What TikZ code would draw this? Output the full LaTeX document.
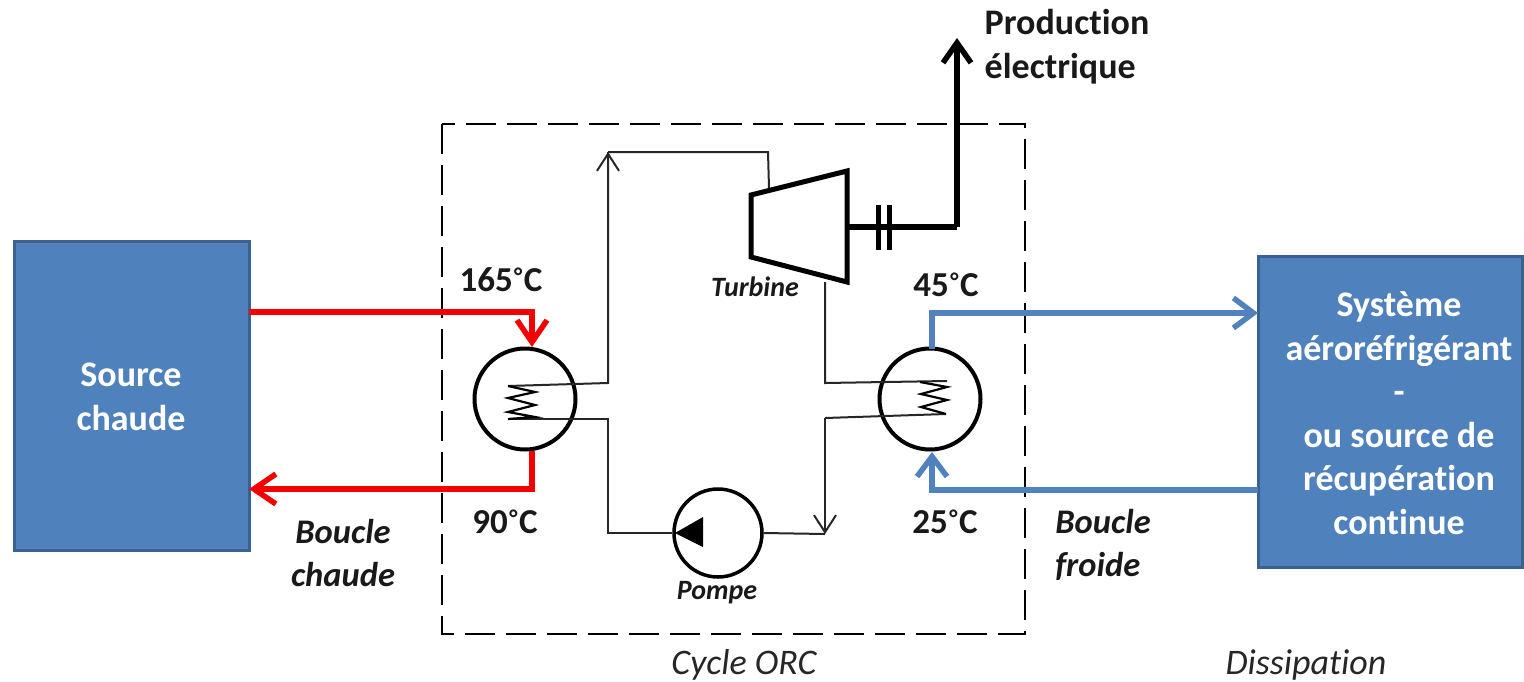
\documentclass[tikz,border=0pt]{standalone}
\usepackage{fontspec}
\setmainfont{Carlito}[Ligatures=NoCommon]
\usetikzlibrary{arrows.meta}
\definecolor{boxblue}{HTML}{4F81BD}
\definecolor{boxedge}{HTML}{3A6190}
\definecolor{loopblue}{HTML}{5082BE}
\definecolor{loopred}{HTML}{F40000}
\newcommand{\degr}{\kern1.5pt\raisebox{7pt}{\fontsize{24}{24}\selectfont °}\kern1.5pt}
\tikzset{
  block/.style={draw=boxedge, fill=boxblue, line width=3pt, inner sep=0pt},
  blocktext/.style={text=white, font=\fontsize{36}{43.5}\selectfont\bfseries, align=center},
  exch/.style={circle, draw=black, fill=white, line width=4pt, minimum size=101pt, inner sep=0pt},
  pumpc/.style={circle, draw=black, fill=white, line width=3.5pt, minimum size=88pt, inner sep=0pt},
  thinl/.style={draw=black!85, line width=2pt},
  thinarrow/.style={thinl, -{Straight Barb[length=17pt,width=22pt,line width=2pt]}},
  hotl/.style={draw=loopred, line width=5.5pt, line join=miter},
  hotarrow/.style={hotl, -{Straight Barb[length=22pt,width=30pt,line width=5.5pt]}},
  coldl/.style={draw=loopblue, line width=5.5pt, line join=miter},
  coldarrow/.style={coldl, -{Straight Barb[length=20pt,width=30pt,line width=5.5pt]}},
  shaft/.style={draw=black, line width=5.5pt},
  temp/.style={font=\fontsize{35}{36}\selectfont\bfseries, text=black!90},
  looplab/.style={font=\fontsize{34.5}{43}\selectfont\bfseries\itshape, align=center, text=black!90},
  complab/.style={font=\fontsize{28}{30}\selectfont\bfseries\itshape, text=black!90},
  zonelab/.style={font=\fontsize{36}{38}\selectfont\itshape, text=black!85}
}
\begin{document}
\begin{tikzpicture}[x=1pt,y=-1pt]
\useasboundingbox (0,0) rectangle (1524,681);
% boxes
\path [block] (14,241) rectangle (249,550);
\path [block] (1258,256) rectangle (1522,567);
\coordinate (srcin) at (249,312);
\coordinate (srcout) at (249,489);
\coordinate (sysin) at (1258,313);
\coordinate (sysout) at (1258,490);
\node [blocktext] (source) at (131,397) {Source\\chaude};
\node [blocktext] (systeme) at (1399,413) {Système\\aéroréfrigérant\\-\\ou source de\\récupération\\continue};
% ORC frame
\draw [black, line width=2.6pt, dash pattern=on 30pt off 11pt] (442,124) rectangle (1025,634);
% corners of the thin loop
\coordinate (a1) at (508,386);
\coordinate (a2) at (608,383);
\coordinate (a3) at (608,152);
\coordinate (a4) at (768,152);
\coordinate (a5) at (769,188);
\coordinate (b1) at (825,282);
\coordinate (b2) at (825,383);
\coordinate (b3) at (947,381);
\coordinate (c1) at (946,414);
\coordinate (c2) at (825,418);
\coordinate (c3) at (825,534);
\coordinate (d2) at (608,533);
\coordinate (d1) at (608,419);
\coordinate (d0) at (508,419);
% heat exchangers
\node [exch] (hxhot) at (525,399) {};
\node [exch] (hxcold) at (930,399) {};
\node [pumpc] (pump) at (718,533) {};
% thin loop
\draw [thinl] (a1) -- (a2) -- (a3);
\draw [thinarrow] (a2) -- (a3);
\draw [thinl] (a3) -- (a4) -- (a5);
\draw [thinl] (b1) -- (b2) -- (b3);
\draw [thinl] (c1) -- (c2);
\draw [thinarrow] (c2) -- (c3);
\draw [thinl] (c3) -- (pump.east);
\draw [thinl] (pump.west) -- (d2) -- (d1) -- (d0);
% coils
\draw [black, line width=2.2pt] (a1) -- (535,392) -- (508,398) -- (535,405) -- (508,412) -- (535,417) -- (d0);
\draw [black, line width=2.2pt] (920,382) -- (947,387) -- (921,394) -- (947,400) -- (921,407) -- (c1);
% pump triangle
\fill [black] (675,533) -- (703,517) -- (703,547) -- cycle;
% turbine
\node [inner sep=0pt] (shaftstart) at (847,227) {};
\draw [black, line width=5pt, fill=white, line join=miter] (751,195) -- (847,171) -- (847,282) -- (751,257) -- cycle;
\coordinate (bend) at (957,227);
\coordinate (elec) at (957,38);
\draw [shaft] (shaftstart) -- (bend);
\draw [shaft, -{Straight Barb[length=20pt,width=28pt,line width=5.5pt]}] (bend) -- (elec);
\draw [black, line width=5pt] (878,205) -- (878,250);
\draw [black, line width=5pt] (889,205) -- (889,250);
% hot loop
\coordinate (hotin) at (532,347);
\coordinate (hotin2) at (532,312);
\coordinate (hotout) at (532,451);
\coordinate (hotout2) at (532,489);
\draw [hotarrow] (srcin) -- (hotin2) -- (hotin);
\draw [hotarrow] (hotout) -- (hotout2) -- (srcout);
% cold loop
\coordinate (coldout) at (932,349);
\coordinate (coldout2) at (932,313);
\coordinate (coldin) at (932,452);
\coordinate (coldin2) at (932,490);
\draw [coldarrow] (coldout) -- (coldout2) -- (sysin);
\draw [coldarrow] (sysout) -- (coldin2) -- (coldin);
% labels
\node [temp] (t165) at (501,280) {165\degr C};
\node [temp] (t90) at (505,522) {90\degr C};
\node [temp] (t45) at (946,285) {45\degr C};
\node [temp] (t25) at (945,522) {25\degr C};
\node [looplab] (hotlab) at (343,553) {Boucle\\chaude};
\node [looplab, align=left] (coldlab) at (1103,545) {Boucle\\froide};
\node [complab] (turbinelab) at (755,287) {Turbine};
\node [complab] (pompelab) at (717,593) {Pompe};
\node [font=\fontsize{36}{44}\selectfont\bfseries, align=left, text=black!90] (prod) at (1067,47) {Production\\électrique};
\node [zonelab] (orc) at (744,665) {Cycle ORC};
\node [zonelab] (diss) at (1306,665) {Dissipation};
\end{tikzpicture}
\end{document}
